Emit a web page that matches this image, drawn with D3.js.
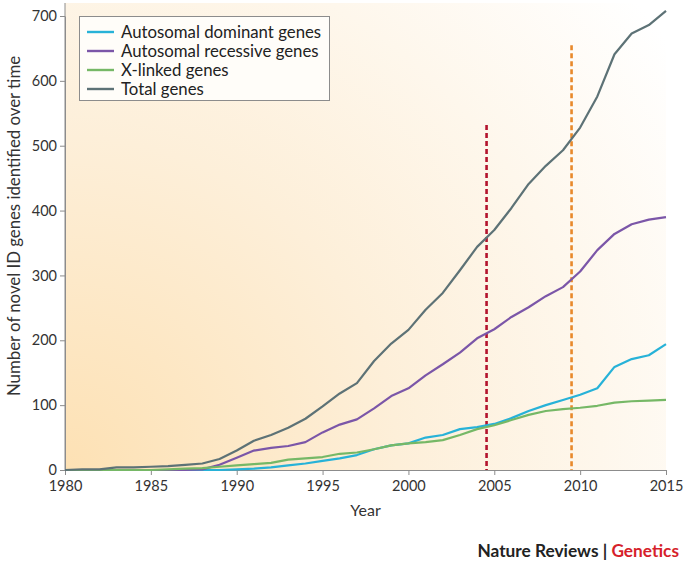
<!DOCTYPE html>
<html>
<head>
<meta charset="utf-8">
<script src="https://cdn.jsdelivr.net/npm/d3@7"></script>
<style>
  body { margin: 0; background: #fff; }
  text { font-family: Lato, "Open Sans", sans-serif; }
  .axis path, .axis line { stroke: #8c8c8c; }
  .axis text { font-size: 14.5px; fill: #333; font-family: Lato, sans-serif; }
</style>
</head>
<body>
<div id="chart"></div>
<script>
// data
var years = d3.range(1980, 2016);
var dominant = [0,0,0,0,0,0,0,0,0,0,1,2,4,7,10,14,18,23,32,38,41,50,54,63,66,71,80,91,100,108,116,126,159,171,177,194];
var recessive = [0,0,0,0,0,0,0,0,1,8,19,30,34,37,43,58,70,78,95,114,126,146,163,181,203,217,236,251,268,282,306,339,364,379,386,390];
var xlinked = [0,0,0,0,0,0,1,2,3,5,7,9,11,16,18,20,25,27,32,38,41,43,46,54,63,69,77,85,91,94,96,99,104,106,107,108];
var total = [0,1,1,4,4,5,6,8,10,17,30,45,54,65,79,98,118,134,168,195,216,247,273,308,344,370,404,441,469,493,528,576,641,673,686,708];
var seriesNames = ["Autosomal dominant genes", "Autosomal recessive genes", "X-linked genes", "Total genes"];
var seriesColors = ["#27b2d8", "#7b56a8", "#76b866", "#5d7276"];
var xTicks = [1980, 1985, 1990, 1995, 2000, 2005, 2010, 2015];
var yTicks = [0, 100, 200, 300, 400, 500, 600, 700];
// vertical markers: [year, top value, colour]
var markers = [[2004.55, 532, "#b3132d"], [2009.5, 655, "#e8892b"]];

var W = 685, H = 565;
var plot = { left: 65, right: 666, top: 16, bottom: 470 };

var svg = d3.select("#chart").append("svg")
	.attr("width", W)
	.attr("height", H);

var x = d3.scaleLinear().domain([1980, 2015]).range([plot.left, plot.right]);
var y = d3.scaleLinear().domain([0, 700]).range([plot.bottom, plot.top]);

// background glow from the bottom-left corner
var grad = svg.append("defs").append("radialGradient")
	.attr("id", "bg")
	.attr("gradientUnits", "userSpaceOnUse")
	.attr("cx", plot.left).attr("cy", plot.bottom).attr("r", 740);
grad.append("stop").attr("offset", "0%").style("stop-color", "#fde1b4");
grad.append("stop").attr("offset", "45%").style("stop-color", "#fdefd9");
grad.append("stop").attr("offset", "100%").style("stop-color", "#ffffff");

svg.append("rect")
	.attr("x", plot.left).attr("y", 3)
	.attr("width", plot.right - plot.left).attr("height", plot.bottom - 3)
	.attr("fill", "url(#bg)");

// axes
var xAxis = d3.axisBottom(x).tickValues(xTicks).tickFormat(d3.format("d")).tickSize(5).tickSizeOuter(0);
svg.append("g")
	.attr("class", "axis")
	.attr("transform", "translate(0," + plot.bottom + ")")
	.call(xAxis)
	.call(function (g) { g.selectAll("text").attr("y", 9).attr("dy", "0.85em"); });

var yAxis = d3.axisLeft(y).tickValues(yTicks).tickSize(5).tickSizeOuter(0);
svg.append("g")
	.attr("class", "axis")
	.attr("transform", "translate(" + plot.left + ",0)")
	.call(yAxis);
// axis line runs up past the last tick
svg.append("line")
	.attr("x1", plot.left).attr("x2", plot.left)
	.attr("y1", 3).attr("y2", plot.bottom)
	.attr("stroke", "#8c8c8c");

// dashed markers
svg.append("g").selectAll("line").data(markers).enter()
	.append("line")
	.attr("x1", function (d) { return x(d[0]); })
	.attr("x2", function (d) { return x(d[0]); })
	.attr("y1", function (d) { return y(d[1]); })
	.attr("y2", plot.bottom)
	.attr("stroke", function (d) { return d[2]; })
	.attr("stroke-width", 2.6)
	.attr("stroke-dasharray", "5,3");

// series lines
var allSeries = [dominant, recessive, xlinked, total];
var line = d3.line()
	.x(function (d, i) { return x(years[i]); })
	.y(function (d) { return y(d); });

svg.append("g").selectAll("path").data(allSeries).enter()
	.append("path")
	.attr("d", line)
	.attr("fill", "none")
	.attr("stroke", function (d, i) { return seriesColors[i]; })
	.attr("stroke-width", 2.2)
	.attr("stroke-linejoin", "round");

// legend
var legend = svg.append("g");
legend.append("rect")
	.attr("x", 79.5).attr("y", 16.5)
	.attr("width", 250).attr("height", 84)
	.attr("fill", "#fffdf9")
	.attr("stroke", "#8c8c8c");
var items = legend.selectAll(".item").data(seriesNames).enter()
	.append("g")
	.attr("class", "item")
	.attr("transform", function (d, i) { return "translate(0," + (32 + i * 19) + ")"; });
items.append("line")
	.attr("x1", 87).attr("x2", 114)
	.attr("stroke", function (d, i) { return seriesColors[i]; })
	.attr("stroke-width", 2.4);
items.append("text")
	.attr("x", 121).attr("dy", "0.35em")
	.style("font-size", "16.8px")
	.style("fill", "#222")
	.text(function (d) { return d; });

// axis titles
svg.append("text")
	.attr("x", x(1997.5)).attr("y", 516)
	.attr("text-anchor", "middle")
	.style("font-size", "16px").style("fill", "#333")
	.text("Year");

svg.append("text")
	.attr("transform", "translate(20,226) rotate(-90)")
	.attr("text-anchor", "middle")
	.style("font-size", "16.8px").style("fill", "#333")
	.text("Number of novel ID genes identified over time");

// footer
var foot = svg.append("text")
	.attr("x", 679).attr("y", 557)
	.attr("text-anchor", "end")
	.style("font-size", "17.3px").style("font-weight", "bold");
foot.append("tspan").style("fill", "#222").text("Nature Reviews | ");
foot.append("tspan").style("fill", "#d61f2b").text("Genetics");
</script>
</body>
</html>
